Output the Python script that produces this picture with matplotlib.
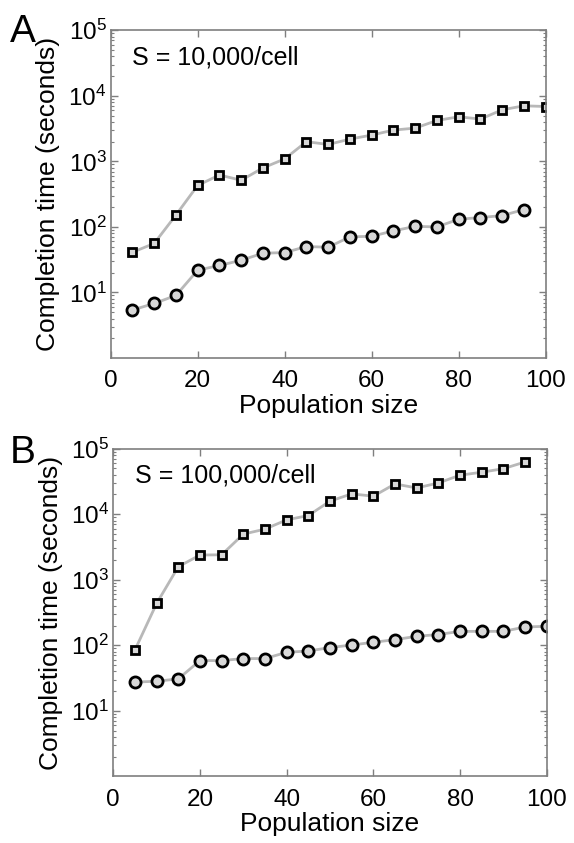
import numpy as np
import matplotlib
matplotlib.use("Agg")
import matplotlib.pyplot as plt
from matplotlib.ticker import FixedLocator, LogLocator, NullFormatter

plt.rcParams['font.family'] = ['Liberation Sans', 'DejaVu Sans']
plt.rcParams['mathtext.fontset'] = 'custom'
plt.rcParams['mathtext.rm'] = 'Liberation Sans'
plt.rcParams['mathtext.it'] = 'Liberation Sans:italic'
plt.rcParams['mathtext.bf'] = 'Liberation Sans:bold'

# ---- data ----
pop_a_sq = [5, 10, 15, 20, 25, 30, 35, 40, 45, 50, 55, 60, 65, 70, 75, 80, 85, 90, 95, 100]
time_a_sq = [41, 56, 152, 430, 620, 515, 795, 1090, 2000, 1810, 2190, 2520, 3000, 3220,
             4210, 4790, 4420, 6120, 7050, 6870]
pop_a_ci = [5, 10, 15, 20, 25, 30, 35, 40, 45, 50, 55, 60, 65, 70, 75, 80, 85, 90, 95]
time_a_ci = [5.4, 6.8, 9.0, 21.9, 25.8, 31, 39.7, 40.6, 50.2, 49, 70.5, 72, 87, 102, 100,
             131, 139, 149, 184]

pop_b_sq = [5, 10, 15, 20, 25, 30, 35, 40, 45, 50, 55, 60, 65, 70, 75, 80, 85, 90, 95]
time_b_sq = [85, 435, 1580, 2380, 2400, 4960, 5910, 8190, 9520, 15800, 20400, 18800, 28900,
             25100, 29900, 39300, 43600, 49400, 62500]
pop_b_ci = [5, 10, 15, 20, 25, 30, 35, 40, 45, 50, 55, 60, 65, 70, 75, 80, 85, 90, 95, 100]
time_b_ci = [27.4, 28.3, 30.7, 58.5, 58.5, 62.7, 62.7, 78.2, 81.8, 92.2, 101, 111, 122, 137,
             146, 163, 163, 163, 190, 195]

x_ticks = [0, 20, 40, 60, 80, 100]
y_ticks = [1e1, 1e2, 1e3, 1e4, 1e5]
panel_labels = ['A', 'B']
annotations = ['S = 10,000/cell', 'S = 100,000/cell']

W, H = 574, 843
fig = plt.figure(figsize=(W / 100, H / 100), dpi=100)

axes_px = [(110.7, 30.3, 545.7, 358.0), (113.3, 448.6, 546.7, 776.4)]
panels = [
    (pop_a_sq, time_a_sq, pop_a_ci, time_a_ci),
    (pop_b_sq, time_b_sq, pop_b_ci, time_b_ci),
]
letter_px = [(10, 42), (10, 463)]

line_col = '#b8b8b8'
spine_col = '#7f7f7f'
fs = 19
tfs = 17.5

for i, ((l, t, r, b), (xs, ys, xc, yc)) in enumerate(zip(axes_px, panels)):
    ax = fig.add_axes([l / W, 1 - b / H, (r - l) / W, (b - t) / H])
    ax.plot(xs, ys, '-', color=line_col, lw=2, zorder=1)
    ax.plot(xs, ys, 's', ms=5.5, mfc='#d8d8d8', mec='black', mew=2.0, zorder=2)
    ax.plot(xc, yc, '-', color=line_col, lw=2, zorder=1)
    ax.plot(xc, yc, 'o', ms=8, mfc='#d8d8d8', mec='black', mew=2.0, zorder=2)
    ax.set_yscale('log')
    ax.set_xlim(0, 100)
    ax.set_ylim(1, 1e5)
    ax.xaxis.set_major_locator(FixedLocator(x_ticks))
    ax.yaxis.set_major_locator(FixedLocator(y_ticks))
    ax.yaxis.set_minor_locator(LogLocator(base=10, subs=np.arange(2, 10)))
    ax.yaxis.set_minor_formatter(NullFormatter())
    ax.set_yticklabels([r'$\mathregular{10^{%d}}$' % int(np.log10(v)) for v in y_ticks])
    ax.tick_params(which='both', direction='in', top=True, right=True,
                   color=spine_col)
    ax.tick_params(axis='x', which='major', labelsize=tfs, pad=9)
    ax.tick_params(axis='y', which='major', labelsize=tfs, pad=3)
    ax.tick_params(which='major', length=5, width=1)
    ax.tick_params(which='minor', length=2.5, width=0.8)
    for s in ax.spines.values():
        s.set_color(spine_col)
        s.set_linewidth(1.2)
    ax.set_xlabel('Population size', fontsize=fs, labelpad=1)
    ax.set_ylabel('Completion time (seconds)', fontsize=fs)
    ax.yaxis.set_label_coords(-0.117, 0.5)
    ax.text(0.05, 0.917, annotations[i], transform=ax.transAxes, fontsize=18,
            ha='left', va='center')
    lx, ly = letter_px[i]
    fig.text(lx / W, 1 - ly / H, panel_labels[i], fontsize=28, ha='left', va='baseline')

fig.savefig('out.png', dpi=100)
